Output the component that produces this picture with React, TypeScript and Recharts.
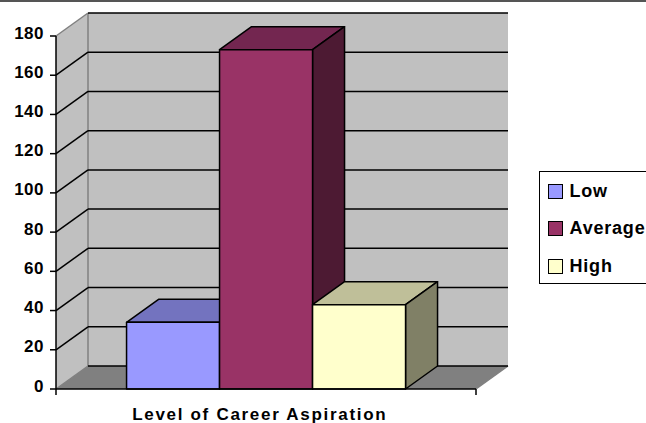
import { BarChart, Bar, XAxis, YAxis, CartesianGrid, Legend, usePlotArea } from "recharts";

const categories = ["Level of Career Aspiration"];
const lowValues = [34];
const averageValues = [173];
const highValues = [43];
const yTicks = [0, 20, 40, 60, 80, 100, 120, 140, 160, 180];

const seriesNames = ["Low", "Average", "High"];
const seriesFronts = ["#9999ff", "#993366", "#ffffcc"];
const seriesTops = ["#7373bf", "#732650", "#bfbf99"];
const seriesSides = ["#4d4d80", "#4d1a33", "#808066"];

const chartData = categories.map((name, i) => ({
  name,
  Low: lowValues[i],
  Average: averageValues[i],
  High: highValues[i],
}));

// depth of the fake 3D box
const DX = 32;
const DY = 23;
const FONT = "'Liberation Sans', Arial, sans-serif";

const Box3D = (props: any) => {
  const { x, y, width, height, front, top, side } = props;
  const r = x + width;
  const b = y + height;
  return (
    <g stroke="#000" strokeWidth={1.5} strokeLinejoin="round">
      <polygon points={`${x},${y} ${x + DX},${y - DY} ${r + DX},${y - DY} ${r},${y}`} fill={top} />
      <polygon points={`${r},${y} ${r + DX},${y - DY} ${r + DX},${b - DY} ${r},${b}`} fill={side} />
      <rect x={x} y={y} width={width} height={height} fill={front} />
    </g>
  );
};

const AxisEnds = () => {
  const plot = usePlotArea();
  if (!plot) return null;
  const b = plot.y + plot.height;
  return (
    <g stroke="#000" strokeWidth={1.5}>
      <line x1={plot.x} y1={b} x2={plot.x} y2={b + 6} />
      <line x1={plot.x + plot.width} y1={b} x2={plot.x + plot.width} y2={b + 6} />
    </g>
  );
};

// the grid layer sits under everything, so the walls and floor are drawn with its first line
const GridLine3D = (props: any) => {
  const { x, y, width, height, x1, y1, x2, index } = props;
  const l = x;
  const r = x + width;
  const t = y;
  const b = y + height;
  const isEdge = Math.abs(y1 - t) < 1 || Math.abs(y1 - b) < 1;
  return (
    <g key={props.key}>
      {index === 0 && (
        <g>
          <polygon points={`${l},${t} ${l + DX},${t - DY} ${l + DX},${b - DY} ${l},${b}`} fill="#c0c0c0" />
          <rect x={l + DX} y={t - DY} width={width} height={height} fill="#c0c0c0" />
          <polygon points={`${l},${b} ${l + DX},${b - DY} ${r + DX},${b - DY} ${r},${b}`} fill="#808080" />
          <g stroke="#808080" strokeWidth={1.5}>
            <line x1={l} y1={t} x2={l + DX} y2={t - DY} />
            <line x1={l} y1={b} x2={l + DX} y2={b - DY} />
            <line x1={l + DX} y1={t - DY} x2={l + DX} y2={b - DY} />
            <line x1={r} y1={b} x2={r + DX} y2={b - DY} />
          </g>
        </g>
      )}
      <g stroke="#000" strokeWidth={1.5}>
        {!isEdge && <line x1={x1} y1={y1} x2={x1 + DX} y2={y1 - DY} />}
        <line x1={x1 + DX} y1={y1 - DY} x2={x2 + DX} y2={y1 - DY} />
      </g>
    </g>
  );
};

const LegendBox = () => (
  <div
    style={{
      position: "absolute",
      left: 539,
      top: 171,
      width: 130,
      height: 113,
      boxSizing: "border-box",
      border: "1.5px solid #000",
      background: "#fff",
      fontFamily: FONT,
      fontWeight: 700,
      fontSize: 18,
      letterSpacing: 0.8,
      color: "#000",
    }}
  >
    {seriesNames.map((name, i) => (
      <div key={name} style={{ position: "absolute", left: 7.5, top: 10 + i * 37.5, display: "flex", alignItems: "center", height: 18 }}>
        <span
          style={{
            display: "inline-block",
            width: 15,
            height: 15,
            boxSizing: "border-box",
            border: "1.5px solid #000",
            background: seriesFronts[i],
            marginRight: 7,
          }}
        />
        {name}
      </div>
    ))}
  </div>
);

export default function App() {
  return (
    <div
      style={{
        position: "absolute",
        left: 0,
        top: 0,
        width: 646,
        height: 423,
        overflow: "hidden",
        background: "#fff",
        borderTop: "2px solid #555",
        boxSizing: "border-box",
      }}
    >
      <div style={{ position: "absolute", left: 0, top: -2 }}>
        <BarChart
          width={646}
          height={423}
          data={chartData}
          margin={{ top: 36, right: 170, bottom: 0, left: 0 }}
          barGap={0}
          barCategoryGap="16.5%"
        >
          <CartesianGrid vertical={false} horizontal={GridLine3D as any} />
          <XAxis
            dataKey="name"
            height={34}
            padding={{ left: 1.5, right: 0 }}
            axisLine={{ stroke: "#000", strokeWidth: 1.5 }}
            tickLine={false}
            dx={-7}
            dy={11}
            tick={{ fill: "#000", fontSize: 17, fontWeight: 700, fontFamily: FONT, letterSpacing: 1.7 }}
          />
          <YAxis
            width={56}
            domain={[0, 180]}
            ticks={yTicks}
            interval={0}
            axisLine={{ stroke: "#000", strokeWidth: 1.5 }}
            tickLine={{ stroke: "#000", strokeWidth: 1.5 }}
            tickSize={6}
            tickMargin={6}
            dy={-3.5}
            tick={{ fill: "#000", fontSize: 17, fontWeight: 700, fontFamily: FONT, letterSpacing: 0.5 }}
          />
          <Legend content={<LegendBox />} wrapperStyle={{ position: "absolute", left: 0, top: 0, width: 0, height: 0 }} />
          {seriesNames.map((name, i) => (
            <Bar
              key={name}
              dataKey={name}
              isAnimationActive={false}
              shape={<Box3D front={seriesFronts[i]} top={seriesTops[i]} side={seriesSides[i]} />}
            />
          ))}
          <AxisEnds />
        </BarChart>
      </div>
    </div>
  );
}
